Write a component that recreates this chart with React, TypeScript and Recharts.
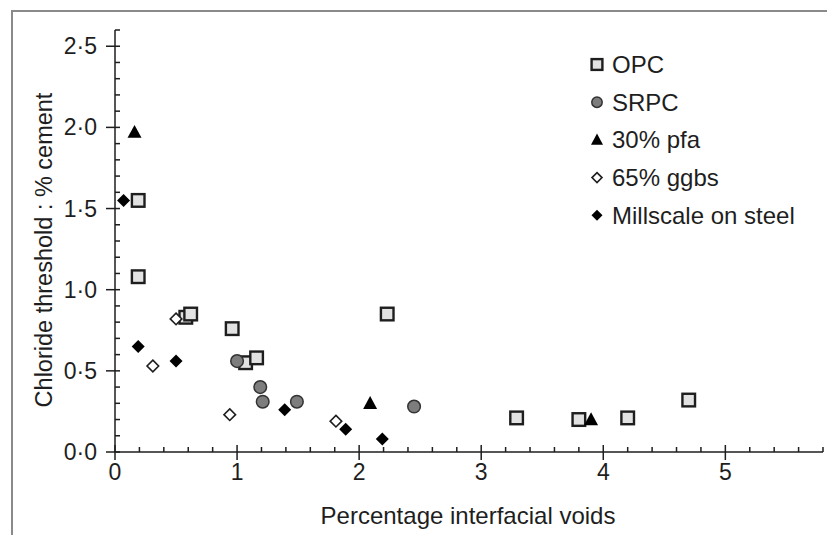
import { Scatter, ScatterChart, XAxis, YAxis } from "recharts";

// Percentage interfacial voids (x) vs chloride threshold, % cement (y)
const opcPoints: [number, number][] = [
  [0.19, 1.55], [0.19, 1.08], [0.58, 0.83], [0.62, 0.85], [0.96, 0.76],
  [1.07, 0.55], [1.16, 0.58], [2.23, 0.85], [3.29, 0.21], [3.8, 0.2],
  [4.2, 0.21], [4.7, 0.32],
];
const srpcPoints: [number, number][] = [
  [1.0, 0.56], [1.19, 0.4], [1.21, 0.31], [1.49, 0.31], [2.45, 0.28],
];
const pfaPoints: [number, number][] = [
  [0.16, 1.97], [2.09, 0.3], [3.9, 0.2],
];
const ggbsPoints: [number, number][] = [
  [0.5, 0.82], [0.31, 0.53], [0.94, 0.23], [1.81, 0.19],
];
const millscalePoints: [number, number][] = [
  [0.07, 1.55], [0.19, 0.65], [0.5, 0.56], [1.39, 0.26], [1.89, 0.14], [2.19, 0.08],
];

const seriesNames = ["OPC", "SRPC", "30% pfa", "65% ggbs", "Millscale on steel"];

const xTicks = [
  0, 0.2, 0.4, 0.6, 0.8, 1, 1.2, 1.4, 1.6, 1.8, 2, 2.2, 2.4, 2.6, 2.8, 3,
  3.2, 3.4, 3.6, 3.8, 4, 4.2, 4.4, 4.6, 4.8, 5, 5.2, 5.4, 5.6, 5.8,
];
const yTicks = [
  0, 0.1, 0.2, 0.3, 0.4, 0.5, 0.6, 0.7, 0.8, 0.9, 1, 1.1, 1.2, 1.3, 1.4,
  1.5, 1.6, 1.7, 1.8, 1.9, 2, 2.1, 2.2, 2.3, 2.4, 2.5, 2.6,
];

const toRows = (pts: [number, number][]) => pts.map(([x, y]) => ({ x, y }));

const INK = "#1e1e1e";
const FONT = "'Liberation Sans', Arial, sans-serif";

// marker shapes
const SquareMark = ({ cx, cy, s = 6.3 }: any) => (
  <rect x={cx - s} y={cy - s} width={2 * s} height={2 * s} fill="#e2e2e2" stroke={INK} strokeWidth={2.4} />
);
const CircleMark = ({ cx, cy, r = 6.3 }: any) => (
  <circle cx={cx} cy={cy} r={r} fill="#7d7d7d" stroke="#333" strokeWidth={1.5} />
);
const TriangleMark = ({ cx, cy, s = 7 }: any) => (
  <polygon
    points={`${cx},${cy - s * 1.05} ${cx + s},${cy + s * 0.8} ${cx - s},${cy + s * 0.8}`}
    fill="#000"
  />
);
const OpenDiamondMark = ({ cx, cy, s = 5.8 }: any) => (
  <polygon
    points={`${cx},${cy - s} ${cx + s},${cy} ${cx},${cy + s} ${cx - s},${cy}`}
    fill="#fff"
    stroke={INK}
    strokeWidth={1.6}
  />
);
const DiamondMark = ({ cx, cy, s = 6.5 }: any) => (
  <polygon points={`${cx},${cy - s} ${cx + s},${cy} ${cx},${cy + s} ${cx - s},${cy}`} fill="#000" />
);

const XTick = ({ x, y, payload }: any) => {
  const v = Number(payload.value);
  const major = Math.abs(v - Math.round(v)) < 1e-6;
  return (
    <g>
      <line x1={x} x2={x} y1={major ? y - 7 : y - 5} y2={major ? y + 8 : y} stroke={INK} strokeWidth={1.5} />
      {major && (
        <text x={x} y={y + 20} textAnchor="middle" dominantBaseline="central" fontSize={23} fill={INK} fontFamily={FONT}>
          {Math.round(v)}
        </text>
      )}
    </g>
  );
};

const YTick = ({ x, y, payload }: any) => {
  const v = Number(payload.value);
  const major = Math.abs(v * 2 - Math.round(v * 2)) < 1e-6;
  return (
    <g>
      <line x1={major ? x - 9 : x} x2={x + 5} y1={y} y2={y} stroke={INK} strokeWidth={1.5} />
      {major && (
        <text x={x - 18} y={y} textAnchor="end" dominantBaseline="central" fontSize={23} fill={INK} fontFamily={FONT}>
          {v.toFixed(1).replace(".", "·")}
        </text>
      )}
    </g>
  );
};

const legendMarks = [
  (cx: number, cy: number) => <SquareMark cx={cx} cy={cy} s={5.4} />,
  (cx: number, cy: number) => <CircleMark cx={cx} cy={cy} r={5.2} />,
  (cx: number, cy: number) => <TriangleMark cx={cx} cy={cy} s={6} />,
  (cx: number, cy: number) => <OpenDiamondMark cx={cx} cy={cy} s={5} />,
  (cx: number, cy: number) => <DiamondMark cx={cx} cy={cy} s={5.5} />,
];

export default function App() {
  return (
    <div style={{ position: "absolute", left: 0, top: 0, width: 827, height: 535, background: "#fff" }}>
      <div
        style={{
          position: "absolute",
          left: 11,
          top: 10,
          width: 816,
          height: 525,
          borderTop: "2px solid #8a8a8a",
          borderLeft: "2px solid #8a8a8a",
          boxSizing: "border-box",
        }}
      />
      <div style={{ position: "absolute", left: 0, top: 0 }}>
        <ScatterChart width={827} height={535} margin={{ top: 30, right: 4, bottom: 0, left: 0 }}>
          <XAxis
            type="number"
            dataKey="x"
            domain={[0, 5.8]}
            ticks={xTicks}
            interval={0}
            tick={(p: any) => <XTick {...p} />}
            tickLine={false}
            tickSize={0}
            tickMargin={0}
            axisLine={{ stroke: INK, strokeWidth: 1.5 }}
            height={83}
          />
          <YAxis
            type="number"
            dataKey="y"
            domain={[0, 2.6]}
            ticks={yTicks}
            interval={0}
            tick={(p: any) => <YTick {...p} />}
            tickLine={false}
            tickSize={0}
            tickMargin={0}
            axisLine={{ stroke: INK, strokeWidth: 1.5 }}
            width={115}
          />
          <Scatter name="OPC" data={toRows(opcPoints)} shape={(p: any) => <SquareMark cx={p.cx} cy={p.cy} />} isAnimationActive={false} />
          <Scatter name="SRPC" data={toRows(srpcPoints)} shape={(p: any) => <CircleMark cx={p.cx} cy={p.cy} />} isAnimationActive={false} />
          <Scatter name="30% pfa" data={toRows(pfaPoints)} shape={(p: any) => <TriangleMark cx={p.cx} cy={p.cy} />} isAnimationActive={false} />
          <Scatter name="65% ggbs" data={toRows(ggbsPoints)} shape={(p: any) => <OpenDiamondMark cx={p.cx} cy={p.cy} />} isAnimationActive={false} />
          <Scatter name="Millscale on steel" data={toRows(millscalePoints)} shape={(p: any) => <DiamondMark cx={p.cx} cy={p.cy} />} isAnimationActive={false} />

          {/* axis titles */}
          <text
            x={44}
            y={250}
            transform="rotate(-90, 44, 250)"
            textAnchor="middle"
            dominantBaseline="central"
            fontSize={23.5}
            fill={INK}
            fontFamily={FONT}
          >
            Chloride threshold : % cement
          </text>
          <text x={468} y={515} textAnchor="middle" dominantBaseline="central" fontSize={24} fill={INK} fontFamily={FONT}>
            Percentage interfacial voids
          </text>

          {/* legend */}
          <g>
            {seriesNames.map((name, i) => {
              const cy = 64.5 + 37.7 * i;
              return (
                <g key={name}>
                  {legendMarks[i](597, cy)}
                  <text x={612} y={cy} dominantBaseline="central" fontSize={24} fill={INK} fontFamily={FONT}>
                    {name}
                  </text>
                </g>
              );
            })}
          </g>
        </ScatterChart>
      </div>
    </div>
  );
}
